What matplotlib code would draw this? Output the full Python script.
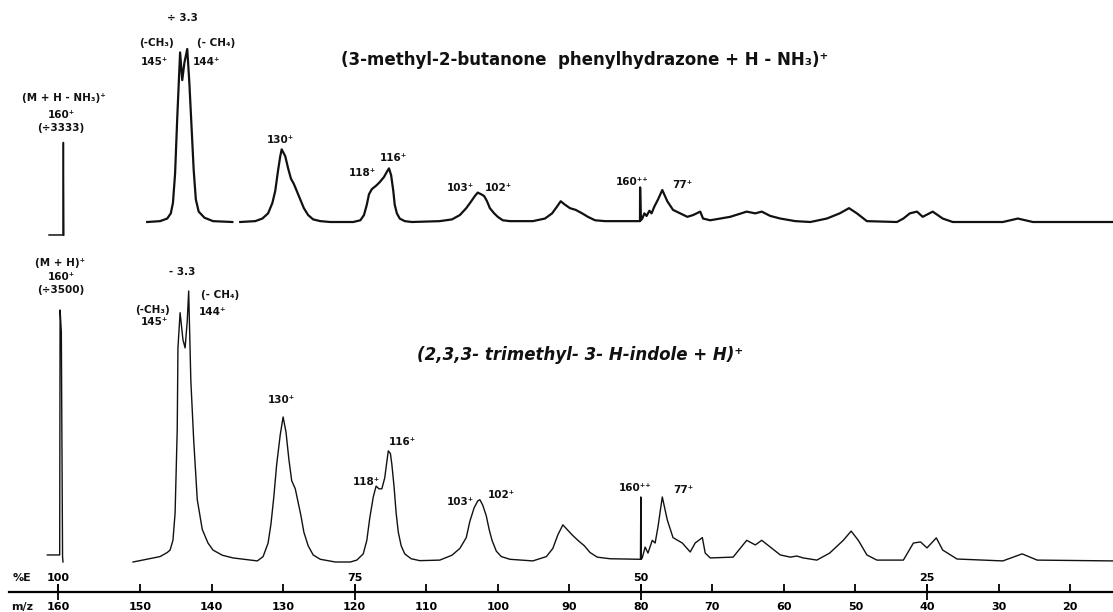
import numpy as np
import matplotlib
matplotlib.use("Agg")
import matplotlib.pyplot as plt

# upper trace: (3-methyl-2-butanone phenylhydrazone + H - NH3)+, m/z vs relative intensity
top_mz = [149.0, 147.2, 146.2, 145.7, 145.4, 145.1, 144.8, 144.4, 144.1, 143.8, 143.4, 143.1,
          142.8, 142.5, 142.2, 141.8, 141.0, 139.8, 137.1, np.nan,
          136.0, 133.9, 132.9, 132.1, 131.5, 131.1, 130.7, 130.4, 130.2, 129.7, 129.3, 128.9,
          128.5, 128.1, 127.6, 127.1, 126.5, 125.8, 124.8, 123.4, 120.2,
          119.2, 118.7, 118.3, 118.0, 117.6, 117.0, 116.5, 115.9, 115.5, 115.2, 114.9, 114.6,
          114.4, 114.1, 113.7, 113.0, 112.0,
          108.1, 106.4, 105.3, 104.4, 103.7, 103.2, 102.8, 102.3, 101.9, 101.5, 101.1, 100.5,
          100.0, 99.3, 98.3,
          95.1, 93.4, 92.4, 91.7, 91.2, 90.6, 89.9, 89.1, 88.2, 87.4, 86.4, 85.0,
          80.12, 80.1, 80.0, 79.8, 79.5, 79.2, 78.8, 78.5, 78.1, 77.6, 77.0, 76.3, 75.5, 74.5,
          73.5, 72.7, 71.7, 71.3, 70.3, 67.5, 65.2, 64.0, 63.1, 61.9, 60.5, 58.4, 56.3, 54.0,
          52.2, 50.9, 49.8, 48.4, 44.2, 43.3, 42.4, 41.4, 40.6, 39.2, 37.8, 36.4, 29.4, 27.3,
          25.2, 14.0]
top_int = [0, 0.5, 2, 5, 11, 28, 60, 98, 82, 92, 100, 80,
           55, 30, 13, 6, 2.5, 0.5, 0, np.nan,
           0, 0.5, 2, 5, 11, 18, 30, 38, 42, 38, 31, 25,
           22, 18, 13, 8, 4, 1.5, 0.5, 0, 0,
           1, 4, 10, 16, 19, 21, 23, 26, 29, 31, 27, 18,
           10, 5, 2, 0.5, 0,
           0.5, 1.5, 4, 8, 12, 15, 17, 16, 15, 12, 8, 5,
           3, 1, 0.5,
           0.5, 2, 5, 9, 12, 10, 8, 7, 5, 3, 1, 0.5,
           0.5, 20, 1, 2, 5, 3.5, 6.5, 5, 9, 13, 18.5, 12, 7, 5,
           3, 4, 6, 2, 1, 3, 6, 5, 6, 3.5, 2, 0.5, 0, 2,
           5, 8, 5, 0.5, 0, 2, 5, 6, 3, 6, 2, 0, 0, 2,
           0, 0]
# separately recorded (M + H - NH3)+ region, divided by 3333
top160_mz = [161.1, 159.4, 159.35, 159.3]
top160_int = [-7.5, -7.5, 46, -7.5]

# lower trace: (2,3,3-trimethyl-3-H-indole + H)+
bot_mz = [150.85, 147.2, 146.2, 145.8, 145.4, 145.1, 144.8, 144.7, 144.4, 144.0, 143.7, 143.4,
          143.2, 142.9, 142.5, 142.0, 141.3, 140.5, 139.8, 138.5, 137.0, 133.6,
          132.8, 132.1, 131.7, 131.3, 130.9, 130.4, 130.0, 129.6, 129.2, 128.8, 128.3, 127.9,
          127.5, 127.1, 126.5, 125.8, 124.8, 122.7, 120.6,
          119.7, 118.8, 118.3, 117.9, 117.4, 117.0, 116.6, 116.2, 115.8, 115.3, 115.0, 114.8,
          114.5, 114.2, 113.9, 113.5, 113.0, 112.1, 110.9, 108.1,
          106.4, 105.3, 104.4, 103.9, 103.3, 102.8, 102.5, 102.1, 101.6, 101.2, 100.8, 100.2,
          99.5, 98.3, 95.1,
          93.2, 92.3, 91.6, 90.9, 90.3, 89.6, 88.8, 87.9, 87.1, 86.1, 84.3, 80.1,
          80.05, 80.0, 79.95, 79.8, 79.4, 79.0, 78.4, 78.0, 77.6, 77.0, 76.3, 75.5, 74.2,
          73.1, 72.4, 71.4, 71.0, 70.3, 67.1, 65.2, 64.0, 63.1, 61.9, 60.5, 59.1, 58.2, 57.3,
          55.4, 53.6, 51.7, 50.6, 49.6, 48.4, 47.0, 43.3, 41.9, 40.9, 40.0, 38.7, 37.8, 35.8,
          29.4, 26.7, 24.6, 14.0]
bot_int = [0, 2, 3.5, 4.4, 8, 18, 49, 79, 92, 82, 79, 89,
           100, 67, 45, 23, 12, 7, 4.4, 2.5, 1.5, 0.4,
           2, 7, 14, 24, 36, 47, 53.5, 48, 38, 30, 27, 22,
           17, 11, 6, 2.6, 1, 0, 0,
           0.7, 3, 8, 16, 24, 28, 27, 27, 31, 41, 40, 36,
           28, 18, 11, 6, 3, 1.2, 0.5, 0.7,
           2.5, 5, 9, 15, 20, 22.5, 23, 21, 17, 12, 8, 4,
           2, 1, 0.4,
           2, 5, 10, 13.7, 12, 10, 8, 6, 3.5, 1.8, 1.2, 1,
           1, 24, 1, 1.5, 5.5, 3.3, 8, 7, 13, 24, 15.5, 9, 7,
           3.7, 7, 9, 3.3, 1.5, 1.8, 8, 6.3, 8, 5.5, 2.6, 1.8, 2.2, 1.5,
           0.7, 3.3, 8, 11.4, 8, 2.6, 0.7, 0.7, 7, 7.4, 5.2, 8.9, 4.4, 1.1,
           0.4, 3, 0.7, 0.4]
# (M + H)+ region, divided by 3500
bot160_mz = [161.3, 159.8, 159.75, 159.6, 159.45, 159.4]
bot160_int = [2.6, 2.6, 93, 85, 2, 0]

mz_ticks = [160, 150, 140, 130, 120, 110, 100, 90, 80, 70, 60, 50, 40, 30, 20]
pct_e = ["100", "75", "50", "25"]
pct_e_mz = [160, 120, 80, 40]

# the 150-160 stretch is drawn a bit wider on the chart
K = 1.146

def fwd(x):
    x = np.asarray(x, float)
    return np.where(x > 150, 150 + (x - 150) * K, x)

def inv(x):
    x = np.asarray(x, float)
    return np.where(x > 150, 150 + (x - 150) / K, x)

W, H = 1113, 612
fig = plt.figure(figsize=(W / 100, H / 100), dpi=100)

def band(y0, y1):
    return fig.add_axes([0, 1 - y1 / H, 1, (y1 - y0) / H])

def label(x, y, s, size=7.5, **kw):
    fig.text(x / W, 1 - y / H, s, ha="center", va="center", fontsize=size,
             fontweight="bold", color="#111111", **kw)

ax_top = band(0, 240)
ax_bot = band(245, 592)
for ax in (ax_top, ax_bot):
    ax.set_xscale("function", functions=(fwd, inv))
    ax.set_xlim(167.08, 14.0)
    for s in ax.spines.values():
        s.set_visible(False)
    ax.set_yticks([])
    ax.patch.set_alpha(0)
ax_top.set_ylim(-10.4, 128.3)
ax_bot.set_ylim(-11.07, 116.97)
ax_top.set_xticks([])

ax_top.plot(top_mz, top_int, color="#111111", lw=1.6)
ax_top.plot(top160_mz, top160_int, color="#111111", lw=1.1)
ax_bot.plot(bot_mz, bot_int, color="#111111", lw=1.0)
ax_bot.plot(bot160_mz, bot160_int, color="#111111", lw=1.0)

# m/z scale at the bottom with the %E marks
ax_bot.spines["bottom"].set_visible(True)
ax_bot.spines["bottom"].set_linewidth(1.6)
ax_bot.spines["bottom"].set_bounds(166.0, 14.0)
ax_bot.set_xticks(mz_ticks)
ax_bot.set_xticklabels([str(t) for t in mz_ticks], fontsize=8, fontweight="bold")
ax_bot.set_xticks(pct_e_mz, minor=True)
ax_bot.xaxis.remove_overlapping_locs = False
ax_bot.tick_params(axis="x", which="major", direction="in", length=6, width=1.3, pad=7)
ax_bot.tick_params(axis="x", which="minor", direction="inout", length=12, width=1.3)
xt = ax_bot.get_xaxis_transform()
for m, e in zip(pct_e_mz, pct_e):
    ax_bot.text(m, 14 / 347, e, transform=xt, ha="center", va="center",
                fontsize=8, fontweight="bold")
label(22, 578, "%E", size=8)
label(22, 607, "m/z", size=8)

# titles
label(585, 60, "(3-methyl-2-butanone  phenylhydrazone + H - NH₃)⁺", size=12)
label(580, 355, "(2,3,3- trimethyl- 3- H-indole + H)⁺", size=12, style="italic")

# peak labels, upper trace
label(182, 18, "÷ 3.3")
label(156, 43, "(-CH₃)")
label(155, 62, "145⁺")
label(216, 43, "(- CH₄)")
label(207, 62, "144⁺")
label(64, 98, "(M + H - NH₃)⁺")
label(61, 115, "160⁺")
label(61, 128, "(÷3333)")
label(280, 140, "130⁺")
label(362, 173, "118⁺")
label(393, 158, "116⁺")
label(460, 188, "103⁺")
label(498, 188, "102⁺")
label(632, 182, "160⁺⁺")
label(682, 185, "77⁺")

# peak labels, lower trace
label(60, 263, "(M + H)⁺")
label(61, 277, "160⁺")
label(61, 290, "(÷3500)")
label(182, 272, "- 3.3")
label(152, 310, "(-CH₃)")
label(154, 322, "145⁺")
label(220, 295, "(- CH₄)")
label(213, 312, "144⁺")
label(281, 400, "130⁺")
label(366, 482, "118⁺")
label(402, 442, "116⁺")
label(460, 502, "103⁺")
label(501, 495, "102⁺")
label(635, 488, "160⁺⁺")
label(683, 490, "77⁺")

fig.savefig("out.png", dpi=100)
